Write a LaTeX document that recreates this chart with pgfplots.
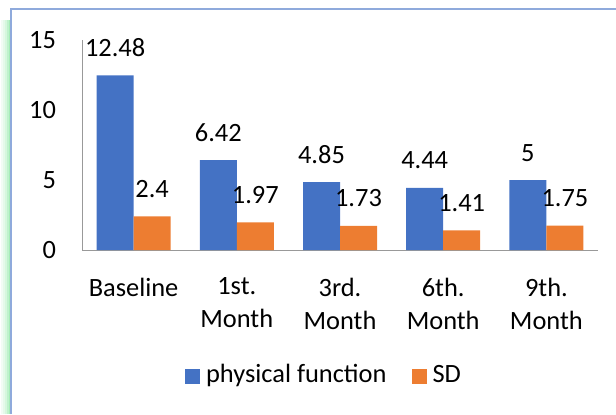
\documentclass[border=0pt]{standalone}
\usepackage{pgfplots}
\pgfplotsset{compat=1.18}
\usepackage{fontspec}
\setmainfont{Carlito}
\definecolor{cblue}{HTML}{4472C4}
\definecolor{corange}{HTML}{ED7D31}
\definecolor{frame}{HTML}{8FAADC}
\newcommand{\cf}{\fontsize{26.5}{33}\selectfont}
\begin{document}
\cf
\begin{tikzpicture}[x=1bp,y=1bp]
\useasboundingbox (0,0) rectangle (616,414);
% green glow on the left
\foreach \i/\o in {2/0.05,4/0.1,6/0.16,8/0.25,9.5/0.35}{
  \draw[green!60!teal, opacity=\o, line width=1.6bp] (\i,0) -- (\i,394);
}
\draw[frame, line width=1.2bp] (11,0) -- (11,405) -- (616,405);
\begin{axis}[
  at={(82bp,164bp)}, anchor=south west,
  scale only axis, width=516bp, height=210bp,
  xmin=-0.5, xmax=4.5, ymin=0, ymax=15,
  axis x line=bottom, axis y line=left,
  axis line style={gray!80, -, line width=0.8bp},
  ytick={0,5,10,15},
  xtick={0,1,2,3,4},
  xticklabels={Baseline,{1st.\\Month},{3rd.\\Month},{6th.\\Month},{9th.\\Month}},
  major tick length=0pt,
  /pgf/number format/assume math mode=true,
  ticklabel style={font=\cf},
  xticklabel style={align=center, anchor=north, yshift=-19bp},
  yticklabel style={anchor=east, xshift=-17bp},
  ybar=0pt, bar width=37bp,
  nodes near coords,
  nodes near coords style={font=\cf, anchor=base, yshift=19bp, black},
  legend style={at={(rel axis cs:0.469,-0.598)}, anchor=center, draw=none, fill=none,
    legend columns=2, font=\cf,
    /tikz/every odd column/.append style={column sep=4bp},
    /tikz/every even column/.append style={column sep=23bp}},
  legend image code/.code={\fill[#1] (0bp,-8bp) rectangle (15bp,7bp);},
]
\addplot[fill=cblue, draw=none] coordinates {(0,12.48) (1,6.42) (2,4.85) (3,4.44) (4,5)};
\addplot[fill=corange, draw=none] coordinates {(0,2.4) (1,1.97) (2,1.73) (3,1.41) (4,1.75)};
\legend{physical function, SD}
\end{axis}
\end{tikzpicture}
\end{document}
